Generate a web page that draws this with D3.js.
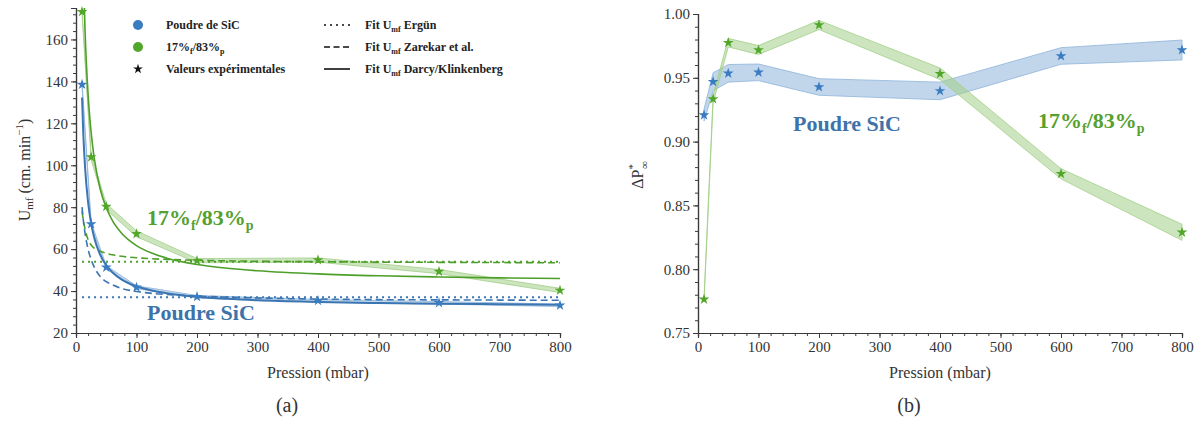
<!DOCTYPE html>
<html><head><meta charset="utf-8">
<script src="https://cdn.jsdelivr.net/npm/d3@7"></script>
<style>
body{margin:0;background:#fff;}
</style></head>
<body><svg id="chart" width="1203" height="439" font-family="Liberation Serif"></svg>
<script>
// ---------- DATA ----------
const pressures = [10, 25, 50, 100, 200, 400, 600, 800];
// (a) experimental U_mf (cm/min)
const umfSiC   = [138.5, 72.0, 51.3, 41.8, 37.3, 35.4, 34.4, 33.2];
const umfSiCErr = [1.2, 1.0, 0.8, 0.7, 0.6, 0.6, 0.6, 0.6];
const umfMix   = [173.2, 103.9, 80.3, 67.3, 54.5, 54.8, 49.3, 40.3];
const umfMixErr = [1.2, 1.3, 1.4, 1.4, 1.0, 1.0, 1.0, 1.0];
// fit curves
const fitP = [10, 12, 15, 20, 25, 30, 40, 50, 60, 75, 100, 125, 150, 200, 250, 300, 400, 500, 600, 700, 800];
const darcySiC = [132.3, 115.6, 99.0, 82.3, 72.3, 65.6, 57.3, 52.3, 49.0, 45.6, 42.3, 40.3, 39.0, 37.3, 36.3, 35.6, 34.8, 34.3, 34.0, 33.7, 33.5];
const darcyMix = [223.7, 193.7, 163.7, 133.7, 115.7, 103.7, 88.7, 79.7, 73.7, 67.7, 61.7, 58.1, 55.7, 52.7, 50.9, 49.7, 48.2, 47.3, 46.7, 46.3, 46.0];
const zarekarSiC = [80.0, 74.0, 67.5, 60.0, 55.0, 51.5, 47.0, 44.5, 43.0, 41.3, 39.8, 38.9, 38.4, 37.6, 37.1, 36.7, 36.2, 35.9, 35.8, 35.7, 35.6];
const zarekarMix = [78.0, 74.0, 69.5, 64.5, 62.0, 60.5, 59.0, 58.0, 57.3, 56.6, 55.9, 55.4, 55.1, 54.7, 54.4, 54.2, 54.0, 53.8, 53.7, 53.6, 53.5];
const ergunP = [10, 800];
const ergunSiC = [37.0, 37.0];
const ergunMix = [54.0, 54.0];
// (b) ΔP*∞
const dpSiC    = [0.9208, 0.9469, 0.9535, 0.9543, 0.9428, 0.9397, 0.9671, 0.9718];
const dpSiCErr = [0.0047, 0.0070, 0.0069, 0.0065, 0.0065, 0.0069, 0.0065, 0.0078];
const dpMix    = [0.7764, 0.9334, 0.9775, 0.9718, 0.9914, 0.9532, 0.8748, 0.8289];
const dpMixErr = [0.0020, 0.0030, 0.0033, 0.0035, 0.0036, 0.0045, 0.0040, 0.0063];
// ticks
const xTicks = [0, 100, 200, 300, 400, 500, 600, 700, 800];
const yTicksA = [20, 40, 60, 80, 100, 120, 140, 160];
const yTicksB = [0.75, 0.80, 0.85, 0.90, 0.95, 1.00];

// ---------- STYLE ----------
const FONT = "Liberation Serif";
const C = {
  blue: "#3a7cc0", green: "#52a62a",
  blueLine: "#3b76b2", greenLine: "#4e9f2a",
  blueText: "#3d73a8", greenText: "#56a02f",
  blueFill: "#8fb4db", greenFill: "#a3d088",
  axis: "#3a3a3a"
};

const svg = d3.select("#chart");

function zip(xs, ys) { return xs.map((x, i) => [x, ys[i]]); }

function drawAxes(g, x, y, yTicks, yMinor, yFmt) {
  const xa = g.append("g").attr("transform", `translate(0,${y.range()[0]})`);
  xa.call(d3.axisBottom(x).tickValues(d3.range(0, 801, 20)).tickSize(3).tickFormat(""));
  const xb = g.append("g").attr("transform", `translate(0,${y.range()[0]})`);
  xb.call(d3.axisBottom(x).tickValues(xTicks).tickSize(5).tickPadding(3).tickFormat(d3.format("d")));
  const ya = g.append("g").attr("transform", `translate(${x.range()[0]},0)`);
  ya.call(d3.axisLeft(y).tickValues(yMinor).tickSize(3).tickFormat(""));
  const yb = g.append("g").attr("transform", `translate(${x.range()[0]},0)`);
  yb.call(d3.axisLeft(y).tickValues(yTicks).tickSize(5).tickPadding(3).tickFormat(yFmt));
  [xa, xb, ya, yb].forEach(a => a.attr("font-family", FONT).attr("font-size", 15));
  g.selectAll(".domain").attr("stroke", C.axis).attr("stroke-width", 1.2);
  g.selectAll(".tick line").attr("stroke", C.axis).attr("stroke-width", 1);
  g.selectAll(".tick text").attr("fill", "#333").attr("font-size", 15).attr("font-family", FONT);
}

function band(g, x, y, xs, vals, errs, fill, clip) {
  const d = xs.map((p, i) => ({ p, lo: vals[i] - errs[i], hi: vals[i] + errs[i] }));
  const area = d3.area().x(o => x(o.p)).y0(o => y(o.lo)).y1(o => y(o.hi));
  const el = g.append("path").datum(d).attr("d", area)
    .attr("fill", fill).attr("fill-opacity", 0.55)
    .attr("stroke", fill).attr("stroke-opacity", 0.8).attr("stroke-width", 1);
  if (clip) el.attr("clip-path", clip);
}

function stars(g, x, y, xs, vals, color) {
  g.selectAll(null).data(zip(xs, vals)).enter().append("path")
    .attr("d", d3.symbol().type(d3.symbolStar).size(36))
    .attr("transform", d => `translate(${x(d[0])},${y(d[1])})`)
    .attr("fill", color);
}

function fitLine(g, x, y, xs, vals, color, dash, clip, w) {
  const line = d3.line().x(d => x(d[0])).y(d => y(d[1])).curve(d3.curveMonotoneX);
  const el = g.append("path").datum(zip(xs, vals)).attr("d", line)
    .attr("fill", "none").attr("stroke", color).attr("stroke-width", w || 1.6);
  if (dash) el.attr("stroke-dasharray", dash);
  if (clip) el.attr("clip-path", clip);
}

function txt(x, y, size, fill) {
  return svg.append("text").attr("x", x).attr("y", y).attr("font-size", size)
    .attr("font-family", FONT).attr("fill", fill);
}

function mixLabel(t, big, small, shift) {
  t.append("tspan").text("17%");
  t.append("tspan").attr("font-size", small).attr("dy", shift).text("f");
  t.append("tspan").attr("dy", -shift).text("/83%");
  t.append("tspan").attr("font-size", small).attr("dy", shift).text("p");
}

// ---------- (a) ----------
const xA = d3.scaleLinear().domain([0, 800]).range([76, 560]);
const yA = d3.scaleLinear().domain([20, 175]).range([333, 8]);
const gA = svg.append("g");
svg.append("clipPath").attr("id", "clipA").append("rect")
  .attr("x", 76).attr("y", 8).attr("width", 490).attr("height", 325);

band(gA, xA, yA, pressures, umfMix, umfMixErr, C.greenFill, "url(#clipA)");
band(gA, xA, yA, pressures, umfSiC, umfSiCErr, C.blueFill, "url(#clipA)");
fitLine(gA, xA, yA, ergunP, ergunMix, C.greenLine, "2,4", "url(#clipA)", 2);
fitLine(gA, xA, yA, ergunP, ergunSiC, C.blueLine, "2,4", "url(#clipA)", 2);
fitLine(gA, xA, yA, fitP, zarekarMix, C.greenLine, "7,4", "url(#clipA)");
fitLine(gA, xA, yA, fitP, zarekarSiC, C.blueLine, "7,4", "url(#clipA)");
fitLine(gA, xA, yA, fitP, darcyMix, C.greenLine, null, "url(#clipA)");
fitLine(gA, xA, yA, fitP, darcySiC, C.blueLine, null, "url(#clipA)", 2);
stars(gA, xA, yA, pressures, umfMix, C.green);
stars(gA, xA, yA, pressures, umfSiC, C.blue);
drawAxes(gA, xA, yA, yTicksA, d3.range(20, 176, 4), d3.format("d"));

// y label (a)
const ylA = svg.append("text").attr("transform", "translate(30,170) rotate(-90)")
  .attr("text-anchor", "middle").attr("font-size", 16).attr("font-family", FONT).attr("fill", "#333");
ylA.append("tspan").text("U");
ylA.append("tspan").attr("font-size", 11).attr("dy", 3).text("mf");
ylA.append("tspan").attr("dy", -3).text(" (cm. min");
ylA.append("tspan").attr("font-size", 11).attr("dy", -7).text("−1");
ylA.append("tspan").attr("dy", 7).text(")");

txt(318, 378, 16, "#333").attr("text-anchor", "middle").text("Pression (mbar)");

// annotations (a)
mixLabel(txt(147, 225, 22, C.greenText).attr("font-weight", "bold"), 22, 14, 5);
txt(147, 320, 22, C.blueText).attr("font-weight", "bold").text("Poudre SiC");

// legend (a)
const lg = svg.append("g");
lg.append("circle").attr("cx", 138).attr("cy", 25).attr("r", 5).attr("fill", C.blue);
lg.append("circle").attr("cx", 138).attr("cy", 47).attr("r", 5).attr("fill", C.green);
lg.append("path").attr("d", d3.symbol().type(d3.symbolStar).size(30)).attr("transform", "translate(138,69)").attr("fill", "#111");
txt(166, 29, 12, "#222").attr("font-weight", "bold").text("Poudre de SiC");
mixLabel(txt(166, 51, 12, "#222").attr("font-weight", "bold"), 12, 8, 3);
txt(166, 73, 12, "#222").attr("font-weight", "bold").text("Valeurs expérimentales");
const legLines = [["2,4", "Ergün", 25], ["6,3.5", "Zarekar et al.", 47], [null, "Darcy/Klinkenberg", 69]];
legLines.forEach(([dash, name, yy]) => {
  const ln = lg.append("line").attr("x1", 324).attr("x2", 350).attr("y1", yy).attr("y2", yy)
    .attr("stroke", "#111").attr("stroke-width", 1.6);
  if (dash) ln.attr("stroke-dasharray", dash);
  const t = txt(365, yy + 4, 12, "#222").attr("font-weight", "bold");
  t.append("tspan").text("Fit U");
  t.append("tspan").attr("font-size", 8).attr("dy", 3).text("mf");
  t.append("tspan").attr("dy", -3).text(" " + name);
});

// ---------- (b) ----------
const xB = d3.scaleLinear().domain([0, 800]).range([698, 1182]);
const yB = d3.scaleLinear().domain([0.75, 1.0]).range([333, 14]);
const gB = svg.append("g");
band(gB, xB, yB, pressures, dpSiC, dpSiCErr, C.blueFill, null);
band(gB, xB, yB, pressures, dpMix, dpMixErr, C.greenFill, null);
stars(gB, xB, yB, pressures, dpSiC, C.blue);
stars(gB, xB, yB, pressures, dpMix, C.green);
drawAxes(gB, xB, yB, yTicksB, d3.range(0, 26).map(i => 0.75 + i * 0.01), d3.format(".2f"));

const ylB = svg.append("text").attr("transform", "translate(643,175) rotate(-90)")
  .attr("text-anchor", "middle").attr("font-size", 16).attr("font-family", FONT).attr("fill", "#333");
ylB.append("tspan").text("ΔP");
ylB.append("tspan").attr("font-size", 11).attr("dy", -7).text("*");
ylB.append("tspan").attr("font-size", 11).attr("dx", -5).attr("dy", 12).text("∞");

txt(940, 378, 16, "#333").attr("text-anchor", "middle").text("Pression (mbar)");

txt(793, 131, 22, C.blueText).attr("font-weight", "bold").text("Poudre SiC");
mixLabel(txt(1038, 128, 22, C.greenText).attr("font-weight", "bold"), 22, 14, 5);

// captions
txt(287, 412, 20, "#333").attr("text-anchor", "middle").text("(a)");
txt(909, 412, 20, "#333").attr("text-anchor", "middle").text("(b)");
</script></body></html>
